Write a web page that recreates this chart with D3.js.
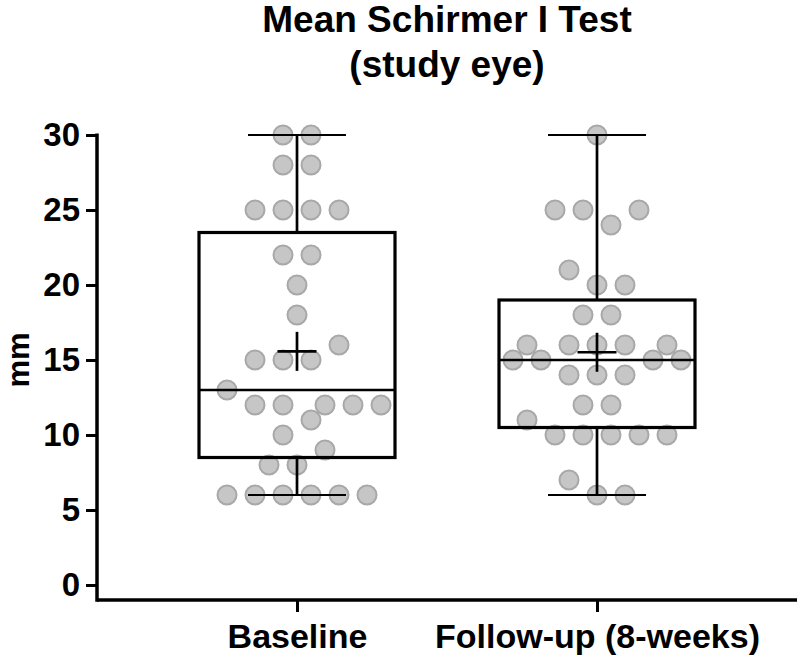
<!DOCTYPE html>
<html>
<head>
<meta charset="utf-8">
<script src="https://cdn.jsdelivr.net/npm/d3@7"></script>
<style>
  html, body { margin: 0; padding: 0; background: #fff; }
  svg { display: block; }
  text { font-family: "Liberation Sans", Arial, Helvetica, sans-serif; font-weight: bold; fill: #000; }
</style>
</head>
<body>
<div id="chart"></div>
<script>
// ---------------- data ----------------
const categories = ["Baseline", "Follow-up (8-weeks)"];
const titleLines = ["Mean Schirmer I Test", "(study eye)"];
const yLabel = "mm";
const yTicks = [0, 5, 10, 15, 20, 25, 30];

// Schirmer I values (mm), one per eye
const baselineValues = [30, 30, 28, 28, 25, 25, 25, 25, 22, 22, 20, 18, 16, 15, 15, 15, 13,
  12, 12, 12, 12, 12, 11, 10, 9, 8, 8, 6, 6, 6, 6, 6, 6];
// horizontal spread of each dot (swarm column, in half-dot units)
const baselineSpread = [-1, 1, -1, 1, -3, -1, 1, 3, -1, 1, 0, 0, 3, -3, -1, 1, -5,
  -3, -1, 2, 4, 6, 1, -1, 2, -2, 0, -5, -3, -1, 1, 3, 5];

const followupValues = [30, 25, 25, 25, 24, 21, 20, 20, 18, 18, 16, 16, 16, 16, 16,
  15, 15, 15, 15, 14, 14, 14, 12, 12, 11, 10, 10, 10, 10, 10, 7, 6, 6];
const followupSpread = [0, -3, -1, 3, 1, -2, 0, 2, -1, 1, -5, -2, 0, 2, 5,
  -6, -4, 4, 6, -2, 0, 2, -1, 1, -5, -3, -1, 1, 3, 5, -2, 0, 2];

const groups = [
  { name: categories[0], values: baselineValues, spread: baselineSpread },
  { name: categories[1], values: followupValues, spread: followupSpread }
];

// ---------------- layout ----------------
const W = 800, H = 658;
const plot = { left: 97, right: 797, top: 135, bottom: 585, axisY: 600 };

const svg = d3.select("#chart").append("svg").attr("width", W).attr("height", H);

const x = d3.scalePoint().domain(categories).range([plot.left, plot.right]).padding(2 / 3);
const y = d3.scaleLinear().domain([0, 30]).range([plot.bottom, plot.top]);
const spreadX = d3.scaleLinear().domain([-1, 1]).range([-14, 14]);

// Prism-style quartiles ((n+1) method)
function quart(sorted, p) {
  const n = sorted.length;
  const pos = (n + 1) * p;
  const lo = Math.floor(pos), hi = Math.ceil(pos);
  const a = sorted[Math.max(0, Math.min(n - 1, lo - 1))];
  const b = sorted[Math.max(0, Math.min(n - 1, hi - 1))];
  return a + (b - a) * (pos - lo);
}
groups.forEach(g => {
  const s = g.values.slice().sort(d3.ascending);
  g.min = d3.min(s); g.max = d3.max(s);
  g.q1 = quart(s, 0.25); g.med = d3.median(s); g.q3 = quart(s, 0.75);
  g.mean = d3.mean(s);
});

// ---------------- title ----------------
svg.append("g").selectAll("text").data(titleLines).join("text")
  .attr("x", (plot.left + plot.right) / 2)
  .attr("y", (d, i) => 32 + i * 45)
  .attr("text-anchor", "middle")
  .style("font-size", "37px")
  .text(d => d);

// ---------------- dots ----------------
const dots = svg.append("g");
groups.forEach(g => {
  dots.selectAll(null).data(g.values.map((v, i) => ({ v, s: g.spread[i] }))).join("circle")
    .attr("cx", d => x(g.name) + spreadX(d.s))
    .attr("cy", d => y(d.v))
    .attr("r", 9.5)
    .attr("fill", "#c6c6c6")
    .attr("stroke", "#a8a8a8")
    .attr("stroke-width", 2);
});

// ---------------- boxes ----------------
const boxHalf = 98, capHalf = 49, meanHalf = 19.5;
const boxes = svg.append("g").attr("stroke", "#000").attr("fill", "none");
groups.forEach(g => {
  const cx = x(g.name);
  boxes.append("rect")
    .attr("x", cx - boxHalf).attr("width", boxHalf * 2)
    .attr("y", y(g.q3)).attr("height", y(g.q1) - y(g.q3))
    .attr("stroke-width", 3.2);
  boxes.append("line")
    .attr("x1", cx - boxHalf).attr("x2", cx + boxHalf)
    .attr("y1", y(g.med)).attr("y2", y(g.med)).attr("stroke-width", 2.7);
  // whiskers
  boxes.append("line").attr("x1", cx).attr("x2", cx)
    .attr("y1", y(g.q3)).attr("y2", y(g.max)).attr("stroke-width", 2.7);
  boxes.append("line").attr("x1", cx).attr("x2", cx)
    .attr("y1", y(g.q1)).attr("y2", y(g.min)).attr("stroke-width", 2.7);
  [g.max, g.min].forEach(v => {
    boxes.append("line").attr("x1", cx - capHalf).attr("x2", cx + capHalf)
      .attr("y1", y(v)).attr("y2", y(v)).attr("stroke-width", 2.2);
  });
  // mean cross
  boxes.append("line").attr("x1", cx - meanHalf).attr("x2", cx + meanHalf)
    .attr("y1", y(g.mean)).attr("y2", y(g.mean)).attr("stroke-width", 2.7);
  boxes.append("line").attr("x1", cx).attr("x2", cx)
    .attr("y1", y(g.mean) - meanHalf).attr("y2", y(g.mean) + meanHalf).attr("stroke-width", 2.7);
});

// ---------------- axes ----------------
const yAxis = svg.append("g").attr("transform", `translate(${plot.left},0)`)
  .call(d3.axisLeft(y).tickValues(yTicks).tickSize(11).tickPadding(6).tickSizeOuter(0));
yAxis.select(".domain").remove();
yAxis.selectAll(".tick line").attr("stroke", "#000").attr("stroke-width", 3);
yAxis.selectAll(".tick text").style("font-size", "33px");
yAxis.append("line").attr("x1", 0).attr("x2", 0)
  .attr("y1", y(30) - 1.5).attr("y2", plot.axisY + 1.75)
  .attr("stroke", "#000").attr("stroke-width", 3.5);

const xAxis = svg.append("g").attr("transform", `translate(0,${plot.axisY})`)
  .call(d3.axisBottom(x).tickSize(12).tickPadding(12).tickSizeOuter(0));
xAxis.select(".domain").remove();
xAxis.selectAll(".tick line").attr("stroke", "#000").attr("stroke-width", 3);
xAxis.selectAll(".tick text").style("font-size", "34px");
xAxis.append("line").attr("x1", plot.left).attr("x2", plot.right)
  .attr("y1", 0).attr("y2", 0).attr("stroke", "#000").attr("stroke-width", 3.5);

svg.selectAll(".tick text").attr("font-family", null).attr("font-size", null);

// y label
svg.append("text")
  .attr("transform", `translate(29,${(plot.top + plot.bottom) / 2}) rotate(-90)`)
  .attr("text-anchor", "middle")
  .style("font-size", "31px")
  .text(yLabel);
</script>
</body>
</html>
